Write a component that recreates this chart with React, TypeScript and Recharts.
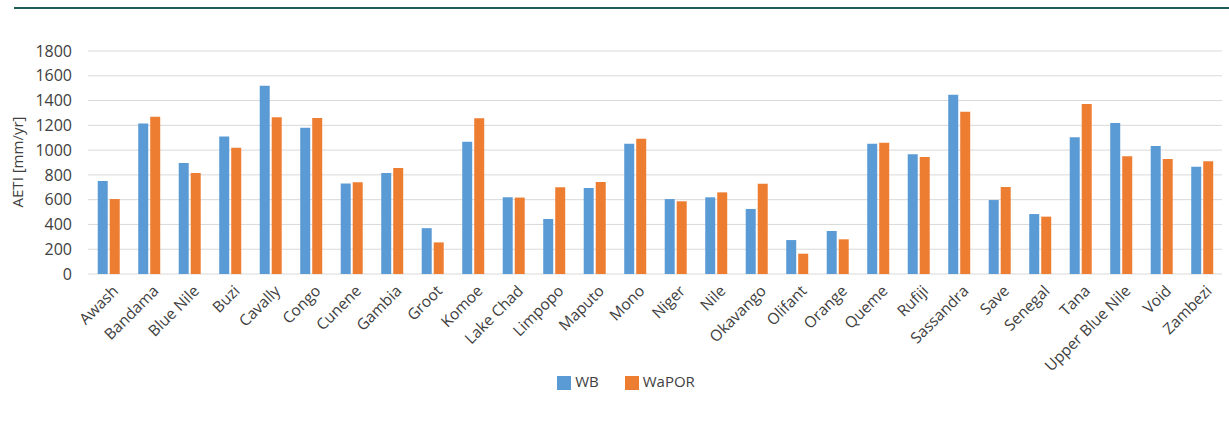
import React from 'react';
import { BarChart, Bar, XAxis, YAxis, CartesianGrid, Legend } from 'recharts';

const basins = [
  'Awash', 'Bandama', 'Blue Nile', 'Buzi', 'Cavally', 'Congo', 'Cunene', 'Gambia', 'Groot', 'Komoe',
  'Lake Chad', 'Limpopo', 'Maputo', 'Mono', 'Niger', 'Nile', 'Okavango', 'Olifant', 'Orange', 'Queme',
  'Rufiji', 'Sassandra', 'Save', 'Senegal', 'Tana', 'Upper Blue Nile', 'Void', 'Zambezi',
];
const wb = [
  750, 1215, 895, 1110, 1520, 1180, 730, 815, 370, 1068,
  619, 444, 694, 1052, 605, 619, 525, 274, 347, 1052,
  966, 1447, 597, 484, 1103, 1219, 1033, 866,
];
const wapor = [
  605, 1270, 815, 1020, 1265, 1260, 740, 855, 255, 1257,
  617, 700, 742, 1092, 587, 659, 729, 164, 280, 1060,
  944, 1310, 702, 463, 1372, 950, 928, 910,
];
const yTicks = [0, 200, 400, 600, 800, 1000, 1200, 1400, 1600, 1800];

const data = basins.map((name, i) => ({ name, WB: wb[i], WaPOR: wapor[i] }));

const FONT = '"Open Sans", "DejaVu Sans", sans-serif';
const TEXT = '#404040';

function BasinTick({ x, y, payload }: any) {
  const tx = x + 8;
  return (
    <text
      x={tx}
      y={y}
      transform={`rotate(-45, ${tx}, ${y})`}
      textAnchor="end"
      dominantBaseline="middle"
      fontFamily={FONT}
      fontSize={15.5}
      fill={TEXT}
    >
      {payload.value}
    </text>
  );
}

export default function App() {
  return (
    <div style={{ position: 'absolute', left: 0, top: 0, width: 1229, height: 425, background: '#fff' }}>
      <div style={{ position: 'absolute', left: 14, top: 7, width: 1215, height: 2, background: '#1f5d59' }} />
      <BarChart
        width={1229}
        height={425}
        data={data}
        margin={{ top: 51, right: 7, left: 8, bottom: 0 }}
        barCategoryGap="24%"
        barGap={2}
      >
        <CartesianGrid vertical={false} stroke="#d9d9d9" />
        <XAxis
          dataKey="name"
          interval={0}
          axisLine={false}
          tickLine={false}
          height={97}
          tick={<BasinTick />}
          tickMargin={9}
        />
        <YAxis
          width={80}
          domain={[0, 1800]}
          ticks={yTicks}
          axisLine={false}
          tickLine={false}
          tickMargin={10}
          tick={{ fontFamily: FONT, fontSize: 16, fill: TEXT }}
          label={{
            content: () => (
              <text
                transform="translate(23, 162) rotate(-90)"
                textAnchor="middle"
                fontFamily={FONT}
                fontSize={15}
                fill={TEXT}
              >
                AETI [mm/yr]
              </text>
            ),
          }}
        />
        <Legend
          verticalAlign="bottom"
          align="center"
          iconType="square"
          iconSize={14}
          wrapperStyle={{ fontFamily: FONT, fontSize: 15, color: TEXT, paddingBottom: 34, paddingLeft: 24 }}
          formatter={(value: string) => <span style={{ color: TEXT, marginRight: 16 }}>{value}</span>}
        />
        <Bar dataKey="WB" fill="#5b9bd5" isAnimationActive={false} />
        <Bar dataKey="WaPOR" fill="#ed7d31" isAnimationActive={false} />
      </BarChart>
    </div>
  );
}
